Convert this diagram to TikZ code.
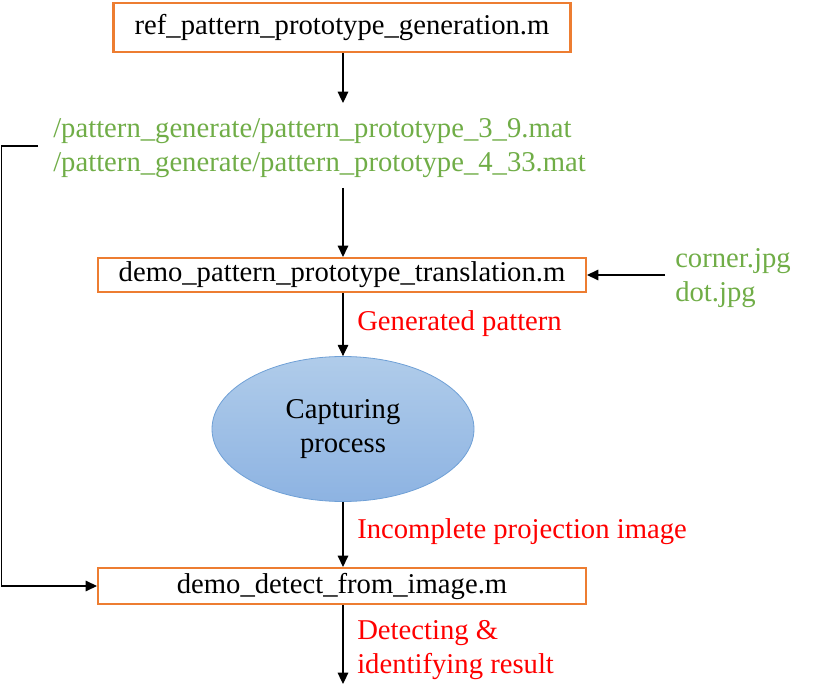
\documentclass[tikz,border=0pt]{standalone}
\usepackage{fontspec}
\newfontfamily\libser{Liberation Serif}
\usetikzlibrary{arrows.meta,shapes.geometric}
\definecolor{boxorange}{HTML}{ED7D31}
\definecolor{filegreen}{HTML}{70AD47}
\definecolor{labelred}{HTML}{FF0000}
\definecolor{elltop}{HTML}{B0CCEA}
\definecolor{ellbot}{HTML}{8DB3E2}
\definecolor{ellborder}{HTML}{6FA0D6}
\begin{document}
\begin{tikzpicture}[x=0.75pt,y=-0.75pt,
  txt/.style={font=\libser\fontsize{21.5}{25.5}\selectfont},
  filebox/.style={txt,draw=boxorange,line width=1.6pt,fill=white,inner sep=0pt},
  greentxt/.style={txt,text=filegreen,inner sep=0pt,align=left},
  redtxt/.style={txt,text=labelred,inner sep=0pt,align=left},
  arr/.style={-{Triangle[length=8.5pt,width=8pt]},line width=0.8pt,black}]
\useasboundingbox (0,0) rectangle (819,699);
% nodes
\node[filebox,minimum width=342.75pt,minimum height=36.75pt] (ref) at (342,27.5) {ref\_pattern\_prototype\_generation.m};
\node[greentxt,anchor=west] (mats) at (53,148) {/pattern\_generate/pattern\_prototype\_3\_9.mat\\/pattern\_generate/pattern\_prototype\_4\_33.mat};
\node[filebox,minimum width=366pt,minimum height=25.5pt] (trans) at (342,275) {demo\_pattern\_prototype\_translation.m};
\node[greentxt,anchor=west] (imgs) at (675,278) {corner.jpg\\dot.jpg};
\node[ellipse,draw=ellborder,line width=0.6pt,top color=elltop,bottom color=ellbot,minimum width=196.5pt,minimum height=108.75pt,inner sep=0pt,txt,align=center] (cap) at (343,429) {Capturing\\process};
\node[filebox,minimum width=366pt,minimum height=27pt] (detect) at (342,586) {demo\_detect\_from\_image.m};
\node[redtxt,anchor=west] (lgen) at (357,324) {Generated pattern};
\node[redtxt,anchor=west] (linc) at (357,532) {Incomplete\ projection\ image};
\node[redtxt,anchor=west] (ldet) at (357,650) {Detecting \&\\identifying result};
% coordinates
\coordinate (a1end) at (343,103);
\coordinate (a2start) at (343,188);
\coordinate (imgarr) at (665,275);
\coordinate (loopstart) at (38,146);
\coordinate (loopcorner) at (1.5,146);
\coordinate (outend) at (343,684);
% connectors
\draw[arr] (ref.south -| a1end) -- (a1end);
\draw[arr] (a2start) -- (a2start |- trans.north);
\draw[arr] (imgarr) -- (trans.east);
\draw[arr] (trans.south -| cap.north) -- (cap.north);
\draw[arr] (cap.south) -- (cap.south |- detect.north);
\draw[arr] (detect.south -| outend) -- (outend);
\draw[arr] (loopstart) -- (loopcorner) |- (detect.west);
\end{tikzpicture}
\end{document}
